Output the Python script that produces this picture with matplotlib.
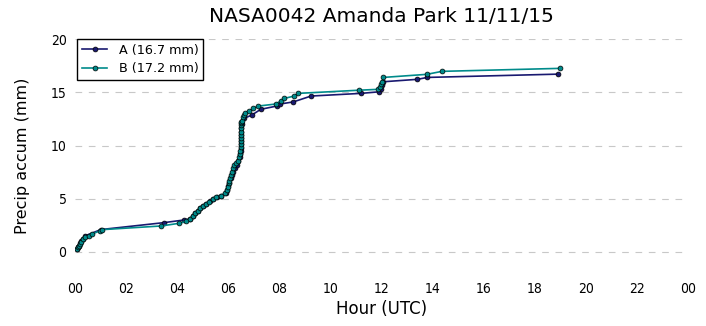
import pandas as pd
import matplotlib
matplotlib.use("Agg")
import matplotlib.pyplot as plt
import matplotlib.dates as mdates

day = "2015-11-11"

# gauge A: hours after midnight UTC and accumulated precip (mm)
hours_a = [0.09, 0.13, 0.17, 0.21, 0.25, 0.30, 0.39, 1.02, 3.48, 4.27,
           4.50, 4.62, 4.72, 4.82, 4.91, 5.02, 5.15, 5.28, 5.41, 5.55,
           5.72, 5.90, 5.96, 6.00, 6.04, 6.10, 6.15, 6.20, 6.27, 6.34,
           6.40, 6.45, 6.48, 6.50, 6.50, 6.50, 6.50, 6.50, 6.50, 6.50,
           6.50, 6.55, 6.62, 6.92, 7.27, 7.90, 8.03, 8.55, 9.24, 11.19,
           11.91, 11.96, 12.00, 12.05, 13.40, 13.79, 18.92]
accum_a = [0.25, 0.44, 0.60, 0.80, 1.00, 1.25, 1.50, 2.10, 2.75, 3.00,
           3.10, 3.40, 3.65, 3.88, 4.12, 4.34, 4.53, 4.74, 4.97, 5.16,
           5.30, 5.52, 5.84, 6.15, 6.47, 6.95, 7.25, 7.55, 7.88, 8.20,
           8.55, 8.90, 9.20, 9.50, 9.80, 10.10, 10.40, 10.70, 11.00, 11.30,
           11.60, 12.00, 12.55, 12.86, 13.40, 13.71, 13.90, 14.10, 14.65, 14.90,
           15.05, 15.35, 15.65, 15.99, 16.22, 16.40, 16.71]

# gauge B
hours_b = [0.09, 0.13, 0.17, 0.21, 0.25, 0.30, 0.39, 0.56, 0.69, 0.97,
           1.05, 3.39, 4.08, 4.35, 4.50, 4.61, 4.70, 4.80, 4.89, 5.00,
           5.13, 5.26, 5.39, 5.52, 5.70, 5.88, 5.94, 5.98, 6.02, 6.04,
           6.08, 6.11, 6.14, 6.17, 6.24, 6.30, 6.37, 6.42, 6.45, 6.47,
           6.49, 6.50, 6.50, 6.50, 6.50, 6.50, 6.50, 6.50, 6.50, 6.50,
           6.53, 6.57, 6.61, 6.66, 6.83, 6.98, 7.18, 7.86, 8.05, 8.20,
           8.58, 8.74, 11.13, 11.87, 11.94, 11.98, 12.02, 12.07, 13.77, 14.36,
           18.96]
accum_b = [0.25, 0.44, 0.59, 0.78, 0.97, 1.19, 1.38, 1.53, 1.69, 1.97,
           2.09, 2.44, 2.69, 2.86, 3.07, 3.38, 3.63, 3.85, 4.10, 4.32,
           4.51, 4.72, 4.95, 5.14, 5.29, 5.51, 5.82, 6.13, 6.45, 6.69,
           6.95, 7.23, 7.54, 7.86, 8.17, 8.38, 8.57, 8.89, 9.20, 9.51,
           9.83, 10.10, 10.40, 10.70, 11.00, 11.30, 11.60, 11.90, 12.10, 12.20,
           12.33, 12.65, 12.86, 13.10, 13.24, 13.49, 13.71, 13.90, 14.18, 14.43,
           14.65, 14.90, 15.20, 15.28, 15.52, 15.75, 15.99, 16.40, 16.69, 16.97,
           17.25]

gauges = {
    "A": (hours_a, accum_a, "midnightblue"),
    "B": (hours_b, accum_b, "darkcyan"),
}

fig = plt.figure(figsize=(7.06, 3.26), dpi=100)
ax = fig.add_axes([0.106, 0.162, 0.869, 0.718])

t0 = pd.Timestamp(day)
for name, (hrs, mm, color) in gauges.items():
    times = t0 + pd.to_timedelta(hrs, unit="h")
    ax.plot(times, mm, "-o", color=color, lw=1.2, ms=3.5,
            mec="black", mew=0.5, label=f"{name} ({mm[-1]:.1f} mm)")

ax.set_xlim(t0, t0 + pd.Timedelta(hours=24))
ax.set_ylim(-2, 20)
ax.set_yticks([0, 5, 10, 15, 20])
ax.xaxis.set_major_locator(mdates.HourLocator(interval=2))
ax.xaxis.set_major_formatter(mdates.DateFormatter("%H"))

for lab in ax.get_xticklabels() + ax.get_yticklabels():
    lab.set_fontstretch("condensed")
    lab.set_fontsize(10)
ax.tick_params(length=0, pad=6)

for s in ax.spines.values():
    s.set_visible(False)
ax.grid(True, axis="y", linestyle="--", color="#c8c8c8", lw=0.8, dashes=(6, 6))
ax.set_axisbelow(True)

ax.set_title("NASA0042 Amanda Park 11/11/15", fontsize=14.5, pad=12)
ax.set_xlabel("Hour (UTC)", fontsize=12, labelpad=3)
ax.set_ylabel("Precip accum (mm)", fontsize=11.5, labelpad=15)

leg = ax.legend(loc="upper left", fontsize=9.2, fancybox=False, framealpha=1,
                edgecolor="black", borderaxespad=0.0, borderpad=0.35,
                labelspacing=0.45, handlelength=2.0, handletextpad=0.9,
                bbox_to_anchor=(0.004, 1.0))
leg.get_frame().set_linewidth(1.0)

fig.savefig("out.png", dpi=100)
